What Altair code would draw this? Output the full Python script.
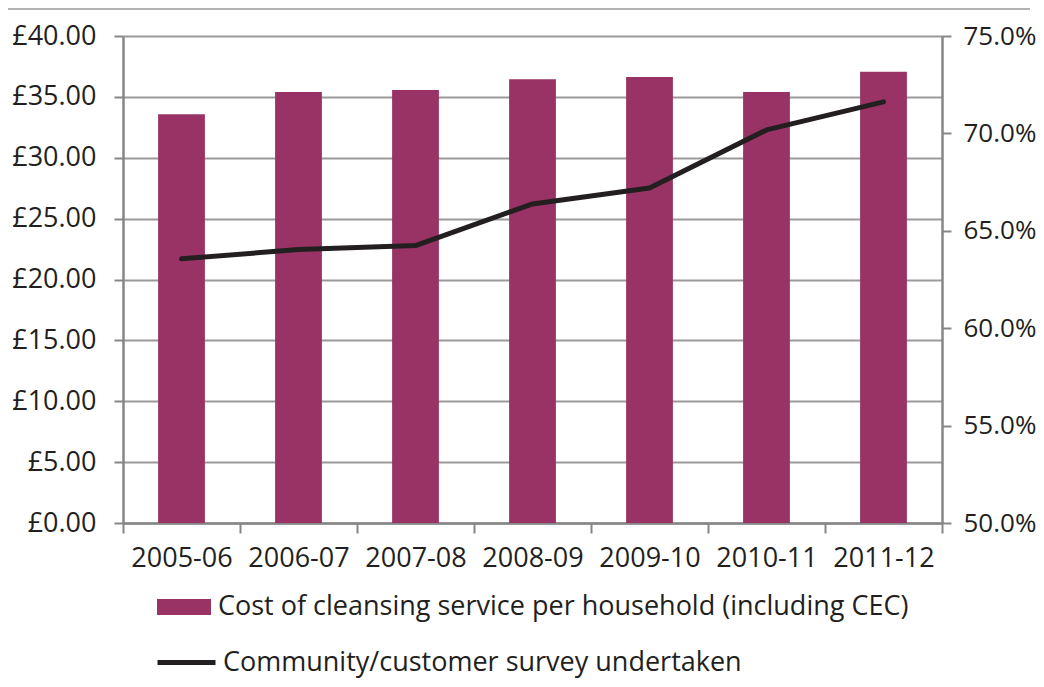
import altair as alt
import pandas as pd

years = ["2005-06", "2006-07", "2007-08", "2008-09", "2009-10", "2010-11", "2011-12"]
cost = [33.58, 35.41, 35.57, 36.45, 36.64, 35.41, 37.07]
survey = [0.6356, 0.6404, 0.6424, 0.6638, 0.6720, 0.7018, 0.7162]
bar_label = "Cost of cleansing service per household (including CEC)"
line_label = "Community/customer survey undertaken"

df = pd.DataFrame({
    "year": years,
    "cost": cost,
    "survey": survey,
    "bar_series": [bar_label] * len(years),
    "line_series": [line_label] * len(years),
})

FONT = "Open Sans"
FS = 27
TEXT = "#231f20"
AXIS = "#868686"
GRID = "#9a9a9a"
BAR = "#993366"

common_axis = dict(labelFont=FONT, labelColor=TEXT,
                   domainColor=AXIS, domainWidth=2.5, tickColor=AXIS, tickWidth=2)

x_enc = alt.X(
    "year:N", sort=years, title=None,
    scale=alt.Scale(paddingInner=0, paddingOuter=0),
    axis=alt.Axis(labelAngle=0, tickBand="extent", tickSize=10, labelPadding=12,
                  labelFontSize=FS, **common_axis),
)

bars = alt.Chart(df).mark_bar(strokeWidth=0, width=alt.RelativeBandSize(0.4)).encode(
    x=x_enc,
    y=alt.Y("cost:Q", title=None,
            scale=alt.Scale(domain=[0, 40], nice=False, zero=True),
            axis=alt.Axis(values=[0, 5, 10, 15, 20, 25, 30, 35, 40],
                          labelExpr="'£' + format(datum.value, '.2f')",
                          grid=True, gridColor=GRID, gridWidth=2,
                          tickSize=9, labelPadding=18, labelFontSize=FS, **common_axis)),
    fill=alt.Fill("bar_series:N", title=None,
                  scale=alt.Scale(domain=[bar_label], range=[BAR]),
                  legend=alt.Legend(orient="none", legendX=34, legendY=544, padding=0,
                                    symbolType="M-1,-0.296L1,-0.296L1,0.296L-1,0.296Z",
                                    symbolSize=2916, symbolStrokeWidth=0, symbolOpacity=1,
                                    labelFont=FONT, labelFontSize=FS, labelColor=TEXT,
                                    labelOffset=7, labelLimit=1000)),
)

line = alt.Chart(df).mark_line(strokeWidth=5, strokeCap="round", strokeJoin="round").encode(
    x=alt.X("year:N", sort=years),
    y=alt.Y("survey:Q", title=None,
            scale=alt.Scale(domain=[0.5, 0.75], nice=False, zero=False),
            axis=alt.Axis(orient="right", values=[0.5, 0.55, 0.6, 0.65, 0.7, 0.75],
                          format=".1%", grid=False, tickSize=9, labelPadding=12,
                          labelFontSize=26, **common_axis)),
    stroke=alt.Stroke("line_series:N", title=None,
                      scale=alt.Scale(domain=[line_label], range=[TEXT]),
                      legend=alt.Legend(orient="none", legendX=32, legendY=595, padding=0,
                                        symbolType="stroke", symbolSize=3364,
                                        symbolStrokeWidth=5,
                                        labelFont=FONT, labelFontSize=FS, labelColor=TEXT,
                                        labelOffset=5, labelLimit=1000)),
)

top_rule = alt.Chart(pd.DataFrame({"k": [0]})).mark_rule(color="#b3b3b3", strokeWidth=2).encode(
    x=alt.value(-115), x2=alt.value(907), y=alt.value(-27)
)

chart = alt.layer(bars, line, top_rule).resolve_scale(y="independent").properties(
    width=819, height=487,
    autosize=alt.AutoSizeParams(type="none"),
    padding={"left": 115, "top": 28, "right": 94, "bottom": 156},
).configure_view(strokeWidth=0).configure(background="white")

chart.save("out.html", embed_options={"renderer": "svg", "actions": False})
